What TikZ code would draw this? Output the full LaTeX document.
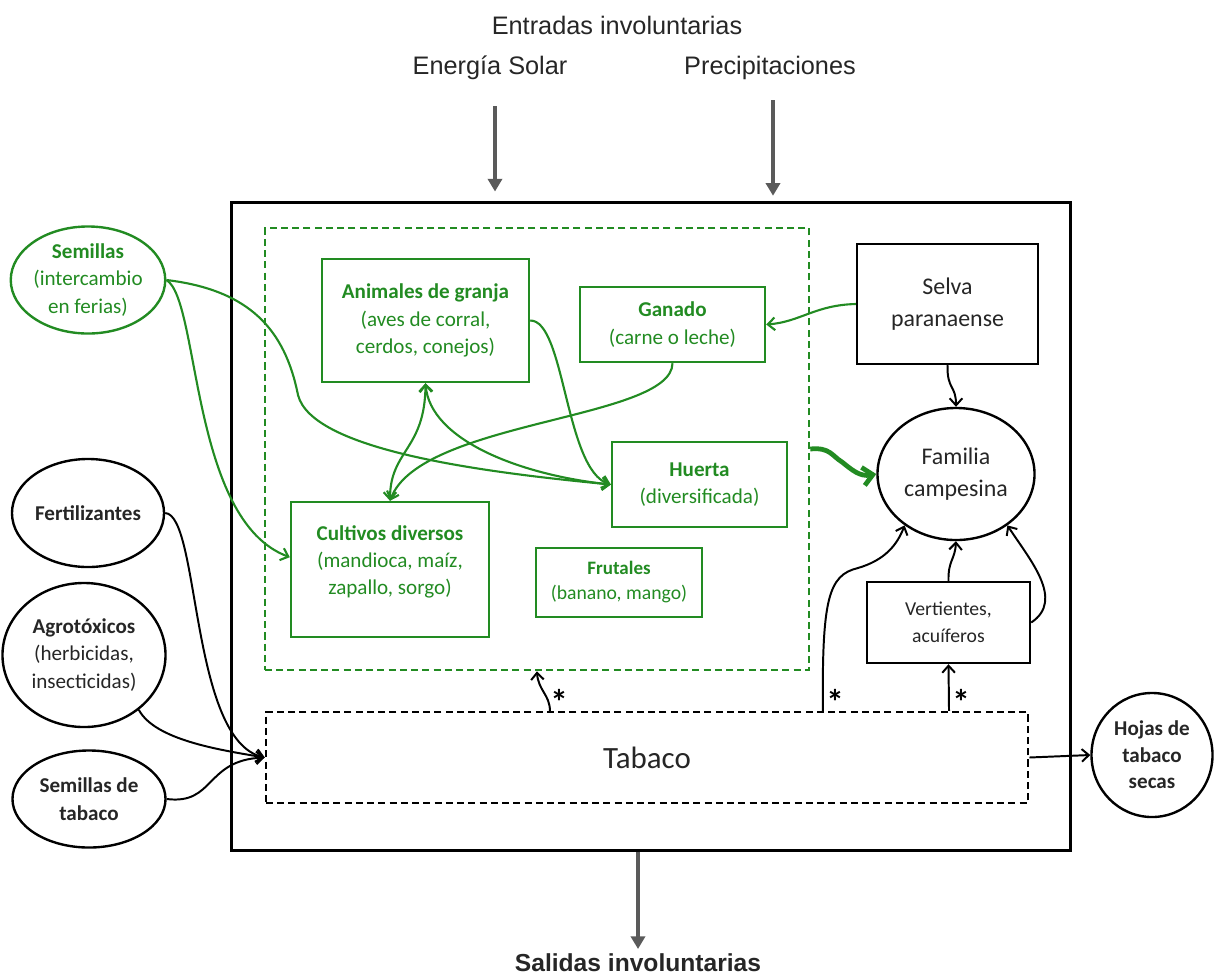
\documentclass[tikz,border=0pt]{standalone}
\usepackage{fontspec}
\setmainfont{Carlito}
\newfontfamily\arialfam{Liberation Sans}
\usepackage{tikz}
\usetikzlibrary{
  shapes.geometric,
  arrows.meta,
  calc
}
\usepackage{xcolor}
\definecolor{verdeO}{RGB}{34,139,34}
\definecolor{grisF}{RGB}{90,90,90}
\tikzstyle{flecha}      = [line width=1.4pt,->]
\tikzstyle{flechaverde} = [line width=1.5pt,draw=verdeO,->]
\tikzstyle{flechagris}  = [line width=3.5pt,draw=grisF,-{Triangle[length=9pt,width=10pt]}]

\begin{document}
\begin{tikzpicture}[x=0.025cm,y=-0.025cm,
>={Straight Barb[length=5pt,width=9pt]},
cajaverde/.style={rectangle, draw=verdeO, line width=1.7pt, inner sep=0pt, text=verdeO, align=center, font=\fontsize{15}{19.5}\selectfont},
cajanegra/.style={rectangle, draw, line width=1.7pt, inner sep=0pt, text=black!85, align=center},
elipse/.style={ellipse, draw, line width=1.7pt, inner sep=0pt, text=black!85, align=center, font=\fontsize{15}{19.5}\selectfont},
titulo/.style={font=\arialfam\fontsize{18}{18}\selectfont, text=black!85},
asterisco/.style={font=\bfseries\fontsize{25}{25}\selectfont, inner sep=0pt},
]
\useasboundingbox (0,0) rectangle (1215,975);

%Nodes
\node[titulo] (entradas) at (617,25) {Entradas involuntarias};
\node[titulo] (solar)    at (490,68) {Energía Solar};
\node[titulo] (precip)   at (770,68) {Precipitaciones};
\node[titulo, font=\arialfam\bfseries\fontsize{17.5}{17.5}\selectfont] (salidas) at (638,963) {Salidas involuntarias};

\node[cajanegra, line width=2.2pt, minimum width=20.95cm, minimum height=16.175cm] (sistema) at (651,526.5) {};
\node[cajaverde, dash pattern=on 5pt off 3pt, minimum width=13.6cm, minimum height=11.05cm] (agroeco) at (537,449) {};
\node[cajanegra, dash pattern=on 5pt off 3pt, minimum width=19.05cm, minimum height=2.275cm, font=\fontsize{22}{22}\selectfont] (tabaco) at (647,757.5) {Tabaco};

\node[cajaverde, minimum width=5.175cm, minimum height=3.075cm] (animales) at (425.5,320.5) {\textbf{Animales de granja}\\(aves de corral,\\cerdos, conejos)};
\node[cajaverde, minimum width=4.625cm, minimum height=1.875cm] (ganado)   at (672.5,324.5) {\textbf{Ganado}\\(carne o leche)};
\node[cajaverde, minimum width=4.375cm, minimum height=2.125cm] (huerta)   at (699.5,484.5) {\textbf{Huerta}\\(diversificada)};
\node[cajaverde, minimum width=4.95cm, minimum height=3.375cm]  (cultivos) at (390,569.5) {\textbf{Cultivos diversos}\\(mandioca, maíz,\\zapallo, sorgo)\\[-6pt]\mbox{}};
\node[cajaverde, minimum width=4.15cm, minimum height=1.725cm, font=\fontsize{14}{17.8}\selectfont] (frutales) at (619,582.5) {{\fontsize{13.5}{17.8}\selectfont\textbf{Frutales}}\\(banano, mango)};

\node[cajanegra, minimum width=4.525cm, minimum height=3cm, font=\fontsize{17}{22.8}\selectfont]   (selva)      at (947.5,304) {Selva\\paranaense};
\node[elipse, minimum width=3.925cm, minimum height=3.3cm, font=\fontsize{17}{22.8}\selectfont]     (familia)    at (956,474) {Familia\\campesina};
\node[cajanegra, minimum width=4.075cm, minimum height=2.025cm, font=\fontsize{14}{19}\selectfont] (vertientes) at (948.5,622.5) {Vertientes,\\acuíferos};
\node[elipse, minimum width=3.025cm, minimum height=3.1cm, font=\bfseries\fontsize{15}{18.9}\selectfont] (hojas) at (1152,755) {Hojas de\\tabaco\\secas};

\node[elipse, draw=verdeO, text=verdeO, minimum width=3.8cm, minimum height=2.675cm] (semillas) at (88,280) {\textbf{Semillas}\\(intercambio\\en ferias)};
\node[elipse, minimum width=3.8cm, minimum height=2.7cm]    (fertil)    at (88,513) {\makebox[2.5cm]{\textbf{Fertilizantes}}};
\node[elipse, minimum width=4.075cm, minimum height=3.6cm]  (agrotox)   at (84,655) {\textbf{Agrotóxicos}\\(herbicidas,\\insecticidas)};
\node[elipse, minimum width=3.825cm, minimum height=2.425cm] (semtabaco) at (89,799) {\textbf{Semillas de}\\\textbf{tabaco}};

\node[asterisco] (ast1) at (559,702) {*};
\node[asterisco] (ast2) at (835,702) {*};
\node[asterisco] (ast3) at (961,702) {*};

\coordinate (solarIn)   at (495,106);
\coordinate (precipIn)  at (773,100);
\coordinate (salidaOut) at (638,949);

%Lines
\draw[flechagris, shorten >=7pt] (solarIn) -- (solarIn |- sistema.north);
\draw[flechagris, shorten >=4pt] (precipIn) -- (precipIn |- sistema.north);
\draw[flechagris] (sistema.south -| salidaOut) -- (salidaOut);

\draw[flechaverde] (semillas.east) .. controls (250,290) and (285,330) .. (298,395) .. controls (312,450) and (480,472) .. (huerta.west);
\draw[flechaverde] (semillas.east) .. controls (200,300) and (190,520) .. (cultivos.173);
\draw[flechaverde] (animales.east) .. controls (565,320) and (565,470) .. (huerta.west);
\draw[flechaverde] (ganado.south) .. controls (672,420) and (420,420) .. (cultivos.north);
\draw[flechaverde, <->] (cultivos.north) .. controls (390,450) and (425,450) .. (animales.south);
\draw[flechaverde, <->] (animales.south) .. controls (430,440) and (520,475) .. (huerta.west);
\draw[flechaverde] (selva.west) .. controls (815,305) and (800,322) .. (ganado.east);
\draw[flechaverde, line width=3.4pt, -{Straight Barb[length=7pt,width=13pt]}] (agroeco.east) .. controls (830,447) and (832,456) .. (842,462) .. controls (852,470) and (860,477) .. (familia.west);

\draw[flecha] (fertil.east) .. controls (200,515) and (190,740) .. (tabaco.west);
\draw[flecha] (agrotox.-45) .. controls (155,740) and (220,750) .. (tabaco.west);
\draw[flecha] (semtabaco.east) .. controls (215,805) and (205,760) .. (tabaco.west);
\draw[flecha] ($(tabaco.north west)!.373!(tabaco.north east)$) .. controls (550,695) and (538,690) .. (agroeco.south);
\draw[flecha] ($(tabaco.north west)!.73!(tabaco.north east)$) .. controls (822,600) and (828,575) .. (858,568) .. controls (885,560) and (897,545) .. (familia.-135);
\draw[flecha] ($(tabaco.north west)!.895!(tabaco.north east)$) -- (vertientes.south);
\draw[flecha] (vertientes.north) .. controls (948,560) and (955,560) .. (familia.south);
\draw[flecha] (vertientes.east) .. controls (1065,600) and (1030,560) .. (familia.-45);
\draw[flecha] (selva.south) .. controls (947,390) and (956,385) .. (familia.north);
\draw[flecha] (tabaco.east) -- (hojas.west);
\end{tikzpicture}
\end{document}
